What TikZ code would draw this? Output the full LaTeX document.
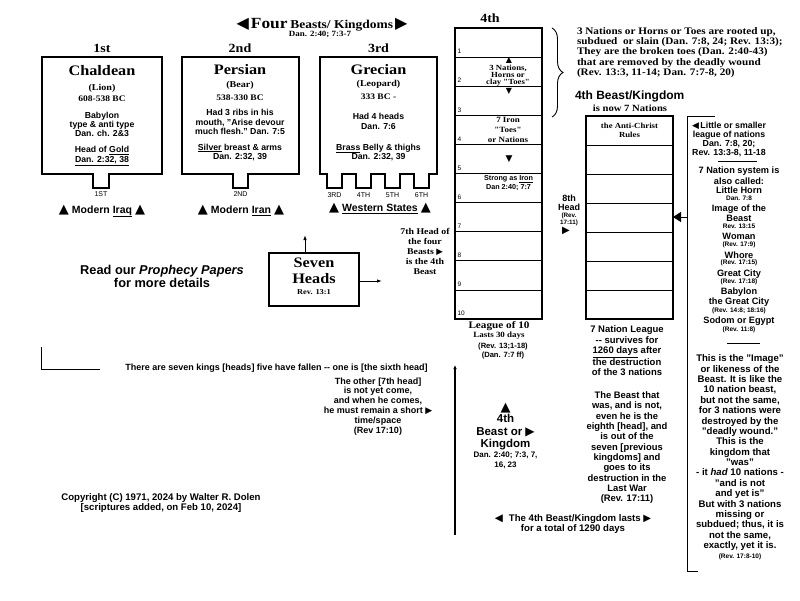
\documentclass[tikz,border=0pt]{standalone}
\usepackage{fontspec}
\setmainfont{Liberation Sans}
\newfontfamily\serifface{Liberation Serif}[FakeStretch=1.12]
\newfontfamily\symf{DejaVu Sans}
\usetikzlibrary{arrows.meta,decorations.pathreplacing}
\newcommand\sfz[2]{\bfseries\fontsize{#1}{#2}\selectfont}
\newcommand\srz[2]{\serifface\bfseries\fontsize{#1}{#2}\selectfont}
\newcommand\smz[2]{\mdseries\fontsize{#1}{#2}\selectfont}
\newcommand\tri[2]{{\symf\fontsize{#1}{#1}\selectfont #2}}
\begin{document}
\begin{tikzpicture}[x=1pt,y=-1pt,
  every node/.style={inner sep=0pt,outer sep=0pt,align=center,font={\sfz{10}{12}}},
  kbox/.style={line width=1.8pt,line join=miter},
  rowline/.style={line width=0.8pt},
  conn/.style={line width=0.9pt},
  thin/.style={line width=0.6pt},
  tab/.style={font={\smz{7}{8}}},
  ord/.style={font={\srz{12.5}{14}}},
  kname/.style={font={\srz{14.5}{16}}},
  paren/.style={font={\srz{9}{10}}},
  date/.style={font={\srz{8.5}{10}}},
  body/.style={font={\sfz{8.7}{#1}}},
  body/.default=9,
  mod/.style={font={\sfz{10.5}{12}}},
  big/.style={font={\sfz{9.2}{10}}},
  small/.style={font={\sfz{6.5}{7}}}]
\fill[white] (0,0) rectangle (800,600);
\useasboundingbox (0,0) rectangle (800,600);

% ---------- title ----------
\node[anchor=base] (title) at (322,28) {\tri{16}{◀}\hspace{2pt}{\srz{15.5}{16}Four} {\srz{12}{13}Beasts/ Kingdoms}\hspace{2pt}\tri{16}{▶}};
\node[font={\srz{8}{9}}] (titleref) at (320,34.5) {Dan. 2:40; 7:3-7};

% ---------- ordinals ----------
\node[ord] (o1) at (102,48) {1st};
\node[ord] (o2) at (240,48) {2nd};
\node[ord] (o3) at (378.5,48) {3rd};

% ---------- kingdom boxes ----------
\draw[kbox] (42,57) -- (162,57) -- (162,174) -- (109,174) -- (109,188) -- (93,188) -- (93,174) -- (42,174) -- cycle;
\draw[kbox] (182,57) -- (299,57) -- (299,174) -- (248,174) -- (248,188) -- (233,188) -- (233,174) -- (182,174) -- cycle;
\draw[kbox] (320,57) -- (437,57) -- (437,174) -- (429,174) -- (429,188) -- (414,188) -- (414,174) -- (400,174) -- (400,188) -- (385,188) -- (385,174) -- (371,174) -- (371,188) -- (356,188) -- (356,174) -- (342,174) -- (342,188) -- (327,188) -- (327,174) -- (320,174) -- cycle;

% Chaldean
\node[kname] (chal) at (102,71) {Chaldean};
\node[paren] (chal2) at (102,88) {(Lion)};
\node[date] (chal3) at (102,99) {608-538 BC};
\node[body] (chal4) at (102,124) {Babylon\\type \& anti type\\Dan. ch. 2\&3};
\node[body=10] (chal5) at (102,156) {Head of \underline{Gold}\\\underline{Dan. 2:32, 38}};
% Persian
\node[kname] (pers) at (240,70) {Persian};
\node[paren] (pers2) at (240,85.5) {(Bear)};
\node[date] (pers3) at (240,98) {538-330 BC};
\node[body=9.5] (pers4) at (240,122.3) {Had 3 ribs in his\\mouth, "Arise devour\\much flesh." Dan. 7:5};
\node[body] (pers5) at (240,152.2) {\underline{Silver} breast \& arms\\Dan. 2:32, 39};
% Grecian
\node[kname] (grec) at (378.5,70) {Grecian};
\node[paren] (grec2) at (378.5,84) {(Leopard)};
\node[date] (grec3) at (378.5,96.7) {333 BC -};
\node[body=9.3] (grec4) at (378.5,121.3) {Had 4 heads\\Dan. 7:6};
\node[body] (grec5) at (378.5,152.8) {\underline{Brass} Belly \& thighs\\Dan. 2:32, 39};

% tab labels
\node[tab] (t1) at (101,194.5) {1ST};
\node[tab] (t2) at (240.5,194.5) {2ND};
\node[tab] (t3) at (334.5,195) {3RD};
\node[tab] (t4) at (363.5,195) {4TH};
\node[tab] (t5) at (392.5,195) {5TH};
\node[tab] (t6) at (421.5,195) {6TH};

% modern states
\node[mod] (iraq) at (102,211) {\tri{13}{▲}\hspace{3pt}Modern \underline{Iraq}\hspace{3pt}\tri{13}{▲}};
\node[mod] (iran) at (241,210.5) {\tri{13}{▲}\hspace{3pt}Modern \underline{Iran}\hspace{3pt}\tri{13}{▲}};
\node[mod] (west) at (380,208.5) {\tri{13}{▲}\hspace{3pt}\underline{Western States}\hspace{3pt}\tri{13}{▲}};

% ---------- 4th kingdom column ----------
\node[ord] (o4) at (490,18) {4th};
\node[draw,line width=1.3pt,minimum width=87,minimum height=291,anchor=north west] (ten) at (455,28) {};
\foreach \i in {1,...,9} \draw[rowline] (455,{28+29.1*\i}) -- (542,{28+29.1*\i});
\foreach \i in {1,...,10} \node[anchor=west,font={\smz{6.5}{7}}] (n\i) at (457.5,{28+29.1*\i-5.5}) {\i};
\node (up1) at (509,60.3) {\tri{8}{▲}};
\node[font={\srz{7.8}{7}}] (nat3) at (508,76) {3 Nations,\\Horns or\\clay "Toes"};
\node (dn1) at (509,91.5) {\tri{8}{▼}};
\node[font={\srz{8}{10}}] (iron7) at (508,130) {7 Iron\\"Toes"\\or Nations};
\node (dn2) at (509,159) {\tri{9}{▼}};
\node[font={\sfz{7.2}{9}}] (strong) at (508.5,183.5) {Strong as \underline{Iron}\\Dan 2:40; 7:7};

% 8th head
\node[font={\sfz{9}{9.5}}] (h8) at (569,202.7) {8th\\Head};
\node[font={\sfz{6.3}{7}}] (h8r) at (569,219) {(Rev.\\17:11)};
\node (h8a) at (566,231) {\tri{10}{▶}};

% 7th head
\node[font={\srz{8.8}{10}}] (h7) at (425,251) {7th Head of\\the four\\Beasts \tri{8.5}{▶}\\is the 4th\\Beast};

% brace
\draw[decorate,decoration={brace,amplitude=11pt},line width=0.9pt] (552,28) -- (552,117);

% rooted up text
\node[anchor=west,align=left,font={\srz{10}{10.2}}] (rooted) at (577,52.4) {3 Nations or Horns or Toes are rooted up,\\subdued~ or slain (Dan. 7:8, 24; Rev. 13:3);\\They are the broken toes (Dan. 2:40-43)\\that are removed by the deadly wound\\(Rev. 13:3, 11-14; Dan. 7:7-8, 20)};

\node[anchor=west,font={\sfz{12}{13}}] (b4k) at (575,96) {4th Beast/Kingdom};
\node[font={\srz{9.5}{10}}] (now7) at (630,108) {is now 7 Nations};

% 7 nation box
\node[draw,line width=1.8pt,minimum width=87,minimum height=203,anchor=north west] (seven) at (586,116) {};
\foreach \i in {1,...,6} \draw[rowline] (586,{116+29*\i}) -- (673,{116+29*\i});
\node[font={\srz{7.8}{9}}] (anti) at (629.5,130.5) {the Anti-Christ\\Rules};

% bracket and arrow
\coordinate (brt) at (715,116);
\coordinate (brc) at (687,116);
\coordinate (brb) at (687,571);
\coordinate (bre) at (698,571);
\coordinate (armp) at (687,217);
\draw[conn] (brt) -- (brc) -- (brb) -- (bre);
\draw[conn,-{Triangle[length=8pt,width=10pt]}] (armp) -- (armp -| seven.east);

% right column
\node[font={\sfz{8.8}{9.1}}] (little) at (729,139.7) {\tri{9}{◀}\,Little or smaller\\league of nations\\Dan. 7:8, 20;\\Rev. 13:3-8, 11-18};
\coordinate (ln1a) at (718,161);
\coordinate (ln1b) at (757,161);
\draw[thin] (ln1a) -- (ln1b);
\node[big] (r1) at (739,171) {7 Nation system is};
\node[big] (r2) at (739,181) {also called:};
\node[big] (r3) at (739,190) {Little Horn};
\node[small] (r4) at (739,198.7) {Dan. 7:8};
\node[big] (r5) at (739,208.7) {Image of the};
\node[big] (r6) at (739,218) {Beast};
\node[small] (r7) at (739,226) {Rev. 13:15};
\node[big] (r8) at (739,236.7) {Woman};
\node[small] (r9) at (739,245) {(Rev. 17:9)};
\node[big] (r10) at (739,255) {Whore};
\node[small] (r11) at (739,263) {(Rev. 17:15)};
\node[big] (r12) at (739,273.7) {Great City};
\node[small] (r13) at (739,282) {(Rev. 17:18)};
\node[big] (r14) at (739,292.3) {Babylon};
\node[big] (r15) at (739,302.3) {the Great City};
\node[small] (r16) at (739,310.7) {(Rev. 14:8; 18:16)};
\node[big] (r17) at (739,321) {Sodom or Egypt};
\node[small] (r18) at (739,330) {(Rev. 11:8)};
\coordinate (ln2a) at (727,343);
\coordinate (ln2b) at (760,343);
\draw[thin] (ln2a) -- (ln2b);
\node[font={\sfz{9.6}{10.37}}] (image) at (740,452.7) {This is the "Image"\\or likeness of the\\Beast. It is like the\\10 nation beast,\\but not the same,\\for 3 nations were\\destroyed by the\\"deadly wound."\\This is the\\kingdom that\\"was"\\- it \textit{had} 10 nations -\\"and is not\\and yet is"\\But with 3 nations\\missing or\\subdued; thus, it is\\not the same,\\exactly, yet it is.};
\node[small] (imageref) at (740,556.7) {(Rev. 17:8-10)};

% below 7 nation box
\node[font={\sfz{9.5}{10.4}}] (league7) at (627,350.9) {7 Nation League\\-{}- survives for\\\underline{1260 days} after\\the destruction\\of the 3 nations};
\node[font={\sfz{9.4}{10.33}}] (beast8) at (627,447.7) {The Beast that\\was, and is not,\\even he is the\\eighth [head], and\\is out of the\\seven [previous\\kingdoms] and\\goes to its\\destruction in the\\Last War\\(Rev. 17:11)};
\node[font={\sfz{9.6}{10}}] (lasts) at (573,524.3) {\tri{10.5}{◀}\hspace{6pt}The 4th Beast/Kingdom lasts \tri{10}{▶}\\for a total of 1290 days};

% league of 10
\node[font={\srz{10}{11}}] (lg10) at (499,326) {League of 10};
\node[font={\srz{8}{9}}] (lg10b) at (499,336) {Lasts 30 days};
\node[font={\sfz{7.6}{9.7}}] (lg10c) at (503,351) {(Rev. 13;1-18)\\(Dan. 7:7 ff)};

% vertical line
\coordinate (vbot) at (455,535);
\coordinate (vtop) at (455,365);
\draw[line width=1.3pt,-{Latex[length=4pt,width=3.5pt]}] (vbot) -- (vtop);

% 4th beast
\node (up4) at (505.5,407.7) {\tri{13}{▲}};
\node[font={\sfz{11.5}{12.5}}] (b4) at (505.5,432.5) {4th\\Beast or \tri{12}{▶}\\Kingdom};
\node[font={\sfz{8}{9.3}}] (b4d) at (505.5,460.3) {Dan. 2:40; 7:3, 7,\\16, 23};

% seven kings
\node[font={\sfz{9}{10}}] (kings) at (276.5,368) {There are seven kings [heads] five have fallen -{}- one is [the sixth head]};
\coordinate (kb1) at (41,347);
\coordinate (kb2) at (41,369);
\coordinate (kb3) at (100,369);
\draw[thin] (kb1) -- (kb2) -- (kb3);
\node[font={\sfz{9}{9.86}}] (other) at (378,406.4) {The other [7th head]\\is not yet come,\\and when he comes,\\he must remain a short \tri{9}{▶}\\time/space\\(Rev 17:10)};

% copyright
\node[font={\sfz{9.6}{10}}] (copy) at (161,503) {Copyright (C) 1971, 2024 by Walter R. Dolen\\{}[scriptures added, on Feb 10, 2024]};

% seven heads
\node[draw,line width=1.1pt,minimum width=90,minimum height=53,anchor=north west] (heads) at (269,253) {};
\node[font={\srz{14.5}{16}}] (hd1) at (314,263) {Seven};
\node[font={\srz{14.5}{16}}] (hd2) at (314,279) {Heads};
\node[font={\srz{7.5}{9}}] (hd3) at (314,292) {Rev. 13:1};
\coordinate (uptip) at (305,235);
\coordinate (rttip) at (382,281);
\draw[conn,-{Latex[length=5pt,width=3.5pt]}] (uptip |- heads.north) -- (uptip);
\draw[conn,-{Latex[length=5pt,width=3.5pt]}] (heads.east |- rttip) -- (rttip);

% read
\node[font={\sfz{12.8}{13.3}}] (read) at (162,276.7) {Read our \textit{Prophecy Papers}\\for more details};
\end{tikzpicture}
\end{document}
